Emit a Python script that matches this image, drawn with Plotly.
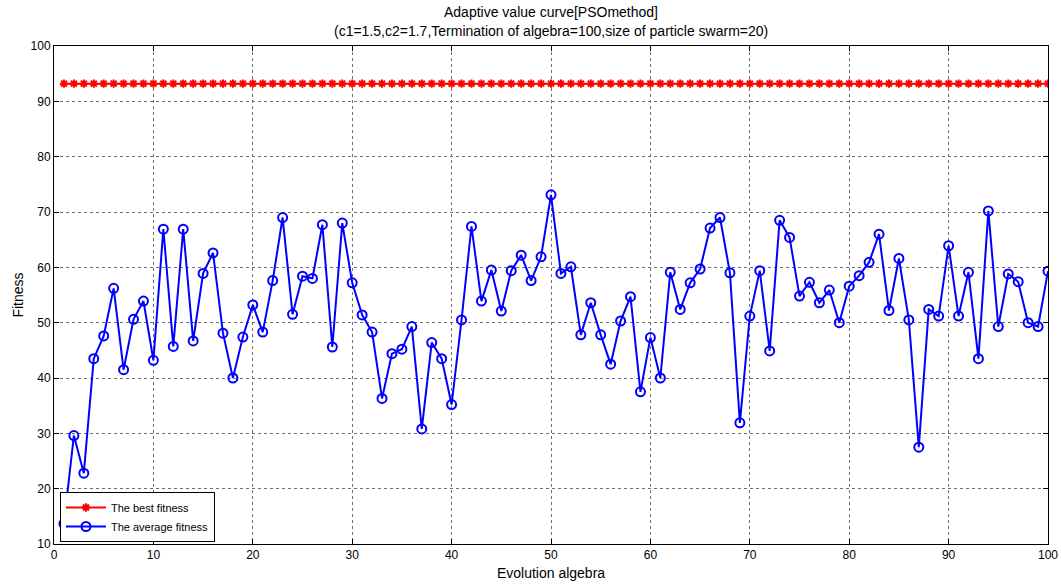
import plotly.graph_objects as go

generations = list(range(1, 101))
best_fitness = [93.2] * 100
avg_fitness = [
    13.7, 29.6, 22.8, 43.5, 47.6, 56.2, 41.5, 50.6, 53.9, 43.2,
    66.9, 45.7, 66.9, 46.7, 58.9, 62.6, 48.1, 40.0, 47.4, 53.2,
    48.3, 57.6, 69.0, 51.5, 58.4, 58.0, 67.7, 45.6, 68.0, 57.2,
    51.4, 48.3, 36.3, 44.4, 45.2, 49.3, 30.8, 46.4, 43.5, 35.2,
    50.5, 67.4, 53.9, 59.5, 52.1, 59.4, 62.2, 57.6, 61.9, 73.1,
    58.9, 60.1, 47.8, 53.6, 47.8, 42.5, 50.3, 54.7, 37.5, 47.3,
    40.0, 59.1, 52.4, 57.2, 59.7, 67.1, 69.0, 59.0, 31.9, 51.2,
    59.4, 44.9, 68.5, 65.4, 54.8, 57.3, 53.6, 55.9, 50.0, 56.6,
    58.5, 60.9, 66.0, 52.2, 61.6, 50.5, 27.5, 52.4, 51.2, 63.9,
    51.2, 59.1, 43.5, 70.2, 49.3, 58.8, 57.4, 50.0, 49.3, 59.3,
]
x_ticks = [0, 10, 20, 30, 40, 50, 60, 70, 80, 90, 100]
y_ticks = [10, 20, 30, 40, 50, 60, 70, 80, 90, 100]

title_line1 = "Adaptive value curve[PSOmethod]"
title_line2 = "(c1=1.5,c2=1.7,Termination of algebra=100,size of particle swarm=20)"

FONT = "Liberation Sans"

fig = go.Figure()
fig.add_trace(go.Scatter(
    x=generations, y=best_fitness, mode="lines+markers",
    name="The best fitness",
    line=dict(color="#ff0000", width=2),
    marker=dict(symbol="asterisk-open", size=7, color="#ff0000",
                line=dict(color="#ff0000", width=2)),
))
fig.add_trace(go.Scatter(
    x=generations, y=avg_fitness, mode="lines+markers",
    name="The average fitness",
    line=dict(color="#0000ff", width=2),
    marker=dict(symbol="circle-open", size=9, color="#0000ff",
                line=dict(color="#0000ff", width=2)),
))

axis_common = dict(
    showline=True, linecolor="black", linewidth=1, mirror="allticks",
    ticks="inside", ticklen=5, tickcolor="black",
    showgrid=True, gridcolor="#6e6e6e", gridwidth=1, griddash="dot",
    zeroline=False, automargin=False,
    tickfont=dict(family=FONT, size=12, color="black"),
)

PLOT_TOP = 46
PLOT_H = 586 - 46 - 42

fig.update_layout(
    width=1061, height=586,
    margin=dict(l=54, r=13, t=PLOT_TOP, b=42),
    paper_bgcolor="white", plot_bgcolor="white",
    font=dict(family=FONT, size=12, color="black"),
    xaxis=dict(range=[0, 100], tickvals=x_ticks,
               title=dict(text="Evolution algebra", standoff=6,
                          font=dict(family=FONT, size=14)),
               **axis_common),
    yaxis=dict(range=[10, 100], tickvals=y_ticks,
               title=dict(text="Fitness", standoff=3,
                          font=dict(family=FONT, size=14)),
               **axis_common),
    legend=dict(x=0.006, y=0.004, xanchor="left", yanchor="bottom",
                bgcolor="white", bordercolor="black", borderwidth=1,
                font=dict(family=FONT, size=11), tracegroupgap=0,
                itemwidth=40),
    showlegend=True,
    annotations=[
        dict(text=title_line1, x=0.5, xref="paper", yref="paper",
             y=1 + (PLOT_TOP - 12) / PLOT_H, yanchor="middle",
             showarrow=False, font=dict(family=FONT, size=14)),
        dict(text=title_line2, x=0.5, xref="paper", yref="paper",
             y=1 + (PLOT_TOP - 31) / PLOT_H, yanchor="middle",
             showarrow=False, font=dict(family=FONT, size=14)),
    ],
)

fig.write_html("out.html")
